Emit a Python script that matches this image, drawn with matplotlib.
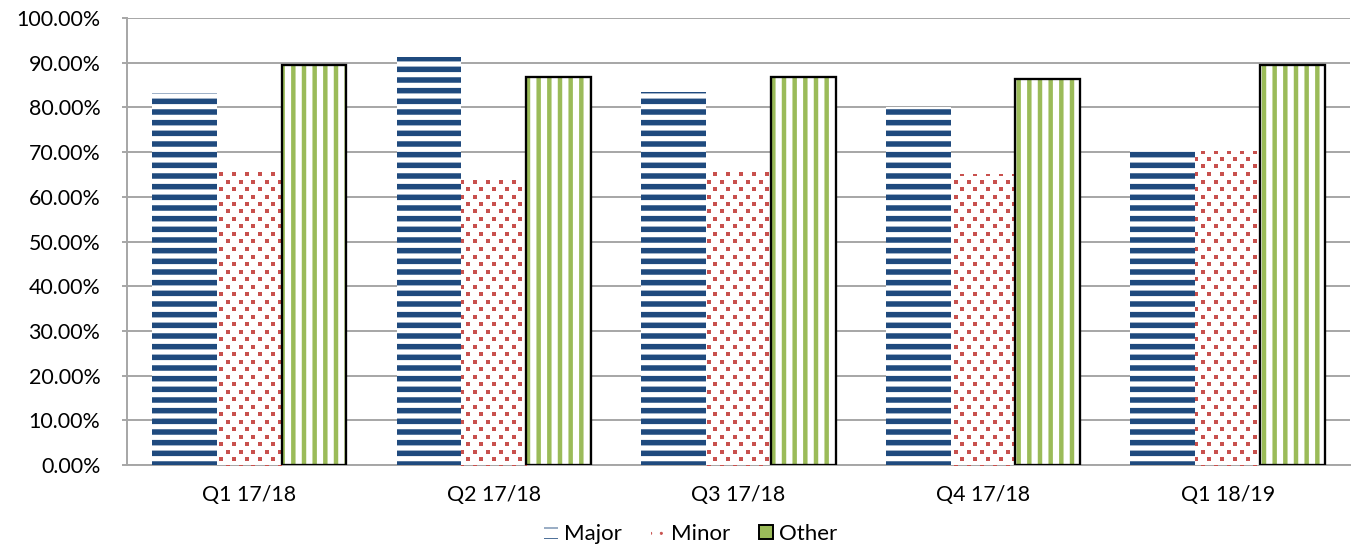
import numpy as np
import matplotlib as mpl
import matplotlib.pyplot as plt
from matplotlib.ticker import FuncFormatter
from matplotlib.patches import Patch

quarters = ['Q1 17/18', 'Q2 17/18', 'Q3 17/18', 'Q4 17/18', 'Q1 18/19']
major = [83.2, 91.3, 83.4, 80.1, 71.2]
minor = [65.6, 64.4, 66.0, 65.2, 70.2]
other = [89.5, 86.9, 86.8, 86.4, 89.5]

BLUE = '#1F4A7E'
RED = '#C8504D'
GREEN = '#9BBB59'
GRID = '#A6A6A6'

DPI = 64
W, H = 1355, 549
plt.rcParams['font.family'] = ['Lato', 'DejaVu Sans']
plt.rcParams['font.size'] = 24

fig = plt.figure(figsize=(W / DPI, H / DPI), dpi=DPI)
ax = fig.add_axes([0.0937, 0.153, 0.9026, 0.814])

x = np.arange(len(quarters))
w = 0.265

with mpl.rc_context({'hatch.linewidth': 6.2}):
    ax.bar(x - w, major, w, facecolor='white', edgecolor=BLUE,
           hatch='-', linewidth=0, zorder=3)
minor_bars = ax.bar(x, minor, w, facecolor='white', linewidth=0, zorder=3)
with mpl.rc_context({'hatch.linewidth': 5.0}):
    ax.bar(x + w, other, w, facecolor='white', edgecolor=GREEN,
           hatch='|', linewidth=0, zorder=3)
# black outline on the "Other" bars
ax.bar(x + w, other, w, fill=False, edgecolor='black', linewidth=2.6, zorder=4)

ax.set_xlim(-0.5, len(quarters) - 0.5)
ax.set_ylim(0, 100)

# confetti texture for the "Minor" bars: staggered grid of small squares
px = np.arange(0, W, 13.0)
rows = np.arange(0, H, 7.5)
gx, gy = [], []
for i, ry in enumerate(rows):
    off = 6.5 if i % 2 else 0.0
    gx.append(px + off)
    gy.append(np.full_like(px, ry))
pts = np.column_stack([np.concatenate(gx), np.concatenate(gy)])
pts_data = ax.transData.inverted().transform(pts)
for bar in minor_bars:
    x0, y0 = bar.get_x(), bar.get_y()
    x1, y1 = x0 + bar.get_width(), y0 + bar.get_height()
    m = ((pts_data[:, 0] > x0 - 0.05) & (pts_data[:, 0] < x1 + 0.05)
         & (pts_data[:, 1] > y0 - 2) & (pts_data[:, 1] < y1 + 2))
    sc = ax.scatter(pts_data[m, 0], pts_data[m, 1], marker='s', s=30,
                    color=RED, linewidths=0, zorder=3.5)
    sc.set_clip_path(bar)

ax.set_yticks(np.arange(0, 101, 10))
ax.yaxis.set_major_formatter(FuncFormatter(lambda v, p: f'{v:.2f}%'))
ax.set_xticks(x)
ax.set_xticklabels(quarters)

ax.grid(axis='y', color=GRID, linewidth=2.2, zorder=0)
ax.set_axisbelow(True)
for s in ['top', 'right']:
    ax.spines[s].set_visible(False)
for s in ['left', 'bottom']:
    ax.spines[s].set_color(GRID)
    ax.spines[s].set_linewidth(2.2)
ax.tick_params(axis='y', length=6, width=2.2, color=GRID, pad=24)
ax.tick_params(axis='x', length=0, pad=22)

# legend proxies
with mpl.rc_context({'hatch.linewidth': 5.0}):
    h1 = Patch(facecolor='white', edgecolor=BLUE, hatch='-', linewidth=0)
with mpl.rc_context({'hatch.linewidth': 6.0}):
    h2 = Patch(facecolor='white', edgecolor=RED, hatch='.', linewidth=0)
h3 = Patch(facecolor=GREEN, edgecolor='black', linewidth=2.2)
fig.legend([h1, h2, h3], ['Major', 'Minor', 'Other'], loc='center',
           bbox_to_anchor=(0.51, 0.027), ncol=3, frameon=False, fontsize=25,
           handlelength=0.6, handleheight=0.6, handletextpad=0.3,
           columnspacing=1.3, borderaxespad=0)

fig.savefig('out.png', dpi=DPI)
